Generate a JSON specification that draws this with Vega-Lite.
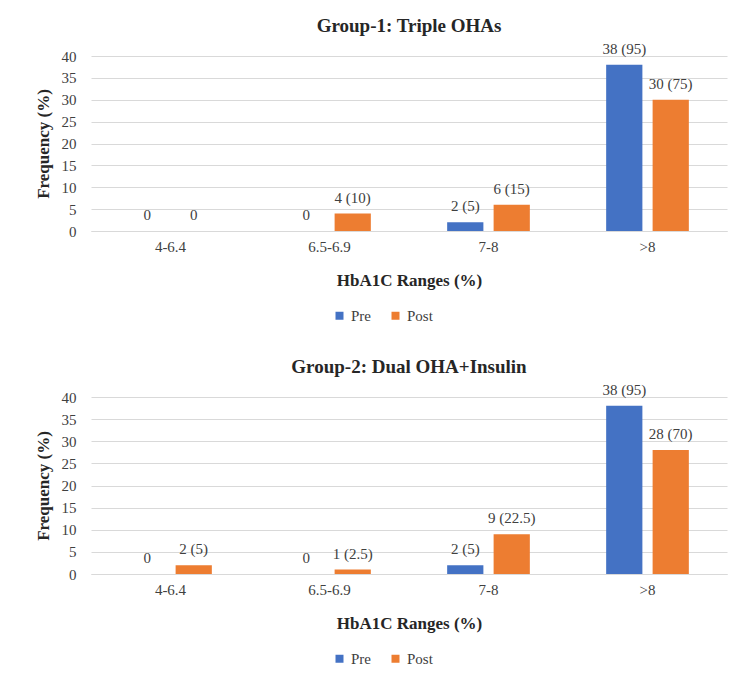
{
  "$schema": "https://vega.github.io/schema/vega-lite/v6.json",
  "background": "white",
  "padding": {"left": 34, "top": 16, "right": 10, "bottom": 5},
  "datasets": {
    "d": [
      {"group": 1, "range": "4-6.4", "period": "Pre", "value": 0, "label": "0"},
      {"group": 1, "range": "4-6.4", "period": "Post", "value": 0, "label": "0"},
      {"group": 1, "range": "6.5-6.9", "period": "Pre", "value": 0, "label": "0"},
      {"group": 1, "range": "6.5-6.9", "period": "Post", "value": 4, "label": "4 (10)"},
      {"group": 1, "range": "7-8", "period": "Pre", "value": 2, "label": "2 (5)"},
      {"group": 1, "range": "7-8", "period": "Post", "value": 6, "label": "6 (15)"},
      {"group": 1, "range": ">8", "period": "Pre", "value": 38, "label": "38 (95)"},
      {"group": 1, "range": ">8", "period": "Post", "value": 30, "label": "30 (75)"},
      {"group": 2, "range": "4-6.4", "period": "Pre", "value": 0, "label": "0"},
      {"group": 2, "range": "4-6.4", "period": "Post", "value": 2, "label": "2 (5)"},
      {"group": 2, "range": "6.5-6.9", "period": "Pre", "value": 0, "label": "0"},
      {"group": 2, "range": "6.5-6.9", "period": "Post", "value": 1, "label": "1 (2.5)"},
      {"group": 2, "range": "7-8", "period": "Pre", "value": 2, "label": "2 (5)"},
      {"group": 2, "range": "7-8", "period": "Post", "value": 9, "label": "9 (22.5)"},
      {"group": 2, "range": ">8", "period": "Pre", "value": 38, "label": "38 (95)"},
      {"group": 2, "range": ">8", "period": "Post", "value": 28, "label": "28 (70)"}
    ]
  },
  "spacing": 33,
  "resolve": {"scale": {"color": "independent"}, "legend": {"color": "independent"}},
  "vconcat": [
    {
      "title": {"text": "Group-1: Triple OHAs"},
      "width": 636,
      "height": 175,
      "data": {"name": "d"},
      "transform": [{"filter": "datum.group == 1"}],
      "encoding": {
        "x": {"field": "range", "type": "nominal", "sort": ["4-6.4", "6.5-6.9", "7-8", ">8"],
          "scale": {"paddingInner": 0.48, "paddingOuter": 0.24},
          "axis": {"title": "HbA1C Ranges (%)", "labelAngle": 0}},
        "xOffset": {"field": "period", "type": "nominal", "sort": ["Pre", "Post"],
          "scale": {"paddingInner": 0.22, "paddingOuter": 0}},
        "y": {"field": "value", "type": "quantitative", "scale": {"domain": [0, 40]},
          "axis": {"title": "Frequency (%)", "values": [0, 5, 10, 15, 20, 25, 30, 35, 40]}}
      },
      "layer": [
        {
          "mark": {"type": "bar"},
          "encoding": {
            "color": {"field": "period", "type": "nominal", "sort": ["Pre", "Post"],
              "scale": {"domain": ["Pre", "Post"], "range": ["#4472C4", "#ED7D31"]},
              "legend": {"title": null, "orient": "none", "legendX": 241, "legendY": 252, "direction": "horizontal"}}
          }
        },
        {
          "mark": {"type": "text", "baseline": "bottom", "dy": -8, "fontSize": 15, "font": "Liberation Serif", "color": "#404040"},
          "encoding": {"text": {"field": "label"}}
        }
      ]
    },
    {
      "title": {"text": "Group-2: Dual OHA+Insulin"},
      "width": 636,
      "height": 177,
      "data": {"name": "d"},
      "transform": [{"filter": "datum.group == 2"}],
      "encoding": {
        "x": {"field": "range", "type": "nominal", "sort": ["4-6.4", "6.5-6.9", "7-8", ">8"],
          "scale": {"paddingInner": 0.48, "paddingOuter": 0.24},
          "axis": {"title": "HbA1C Ranges (%)", "labelAngle": 0}},
        "xOffset": {"field": "period", "type": "nominal", "sort": ["Pre", "Post"],
          "scale": {"paddingInner": 0.22, "paddingOuter": 0}},
        "y": {"field": "value", "type": "quantitative", "scale": {"domain": [0, 40]},
          "axis": {"title": "Frequency (%)", "values": [0, 5, 10, 15, 20, 25, 30, 35, 40]}}
      },
      "layer": [
        {
          "mark": {"type": "bar"},
          "encoding": {
            "color": {"field": "period", "type": "nominal", "sort": ["Pre", "Post"],
              "scale": {"domain": ["Pre", "Post"], "range": ["#4472C4", "#ED7D31"]},
              "legend": {"title": null, "orient": "none", "legendX": 241, "legendY": 254, "direction": "horizontal"}}
          }
        },
        {
          "mark": {"type": "text", "baseline": "bottom", "dy": -8, "fontSize": 15, "font": "Liberation Serif", "color": "#404040"},
          "encoding": {"text": {"field": "label"}}
        }
      ]
    }
  ],
  "config": {
    "font": "Liberation Serif",
    "view": {"stroke": null},
    "title": {"font": "Liberation Serif", "fontSize": 19, "fontWeight": "bold", "color": "#262626", "anchor": "middle", "offset": 6},
    "axis": {
      "labelFont": "Liberation Serif", "labelFontSize": 15, "labelColor": "#404040",
      "titleFont": "Liberation Serif", "titleFontSize": 17, "titleFontWeight": "bold", "titleColor": "#262626",
      "ticks": false, "gridColor": "#D9D9D9", "domainColor": "#D9D9D9"
    },
    "axisX": {"grid": false, "domain": true, "labelPadding": 8, "titlePadding": 18},
    "axisY": {"grid": true, "domain": false, "labelPadding": 15, "titlePadding": 9},
    "legend": {
      "symbolType": "square", "symbolSize": 64,
      "labelFont": "Liberation Serif", "labelFontSize": 15, "labelColor": "#404040", "columnPadding": 17
    }
  }
}
